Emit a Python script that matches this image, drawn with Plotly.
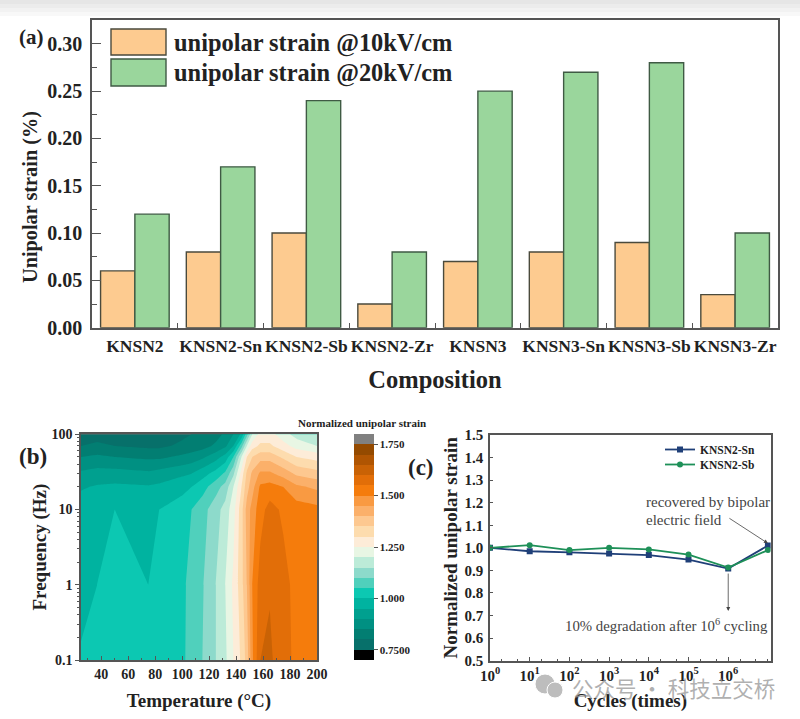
import plotly.graph_objects as go

W, H = 800, 719

# ---- panel (a)
compositions = ["KNSN2", "KNSN2-Sn", "KNSN2-Sb", "KNSN2-Zr", "KNSN3", "KNSN3-Sn", "KNSN3-Sb", "KNSN3-Zr"]
strain_10 = [0.06, 0.08, 0.10, 0.025, 0.07, 0.08, 0.09, 0.035]
strain_20 = [0.12, 0.17, 0.24, 0.08, 0.25, 0.27, 0.28, 0.10]

# ---- panel (b)
temperature = [25, 37, 50, 75, 83, 100, 107, 115, 125, 132, 138, 144, 148, 152, 158, 165, 175, 185, 200]
frequency = [0.1, 1, 10, 20, 30, 50, 70, 100]
z_f0p1 = [1.01, 1.02, 1.02, 1.02, 1.02, 1.045, 1.06, 1.10, 1.15, 1.19, 1.25, 1.31, 1.37, 1.49, 1.60, 1.61, 1.565, 1.54, 1.52]
z_f1 = [0.97, 1.00, 1.02, 1.00, 1.01, 1.04, 1.065, 1.095, 1.15, 1.20, 1.26, 1.33, 1.40, 1.50, 1.575, 1.595, 1.57, 1.53, 1.515]
z_f10 = [0.975, 0.985, 1.00, 0.975, 1.00, 1.025, 1.05, 1.08, 1.13, 1.17, 1.23, 1.33, 1.42, 1.47, 1.53, 1.57, 1.54, 1.525, 1.515]
z_f20 = [0.945, 0.955, 0.96, 0.955, 0.96, 0.985, 1.00, 1.03, 1.08, 1.12, 1.20, 1.30, 1.38, 1.43, 1.51, 1.52, 1.50, 1.46, 1.44]
z_f30 = [0.91, 0.92, 0.92, 0.91, 0.92, 0.94, 0.95, 0.98, 1.02, 1.06, 1.14, 1.27, 1.36, 1.41, 1.46, 1.46, 1.43, 1.39, 1.37]
z_f50 = [0.85, 0.86, 0.85, 0.84, 0.84, 0.86, 0.87, 0.89, 0.93, 0.97, 1.05, 1.20, 1.30, 1.35, 1.38, 1.38, 1.34, 1.30, 1.28]
z_f70 = [0.80, 0.81, 0.80, 0.79, 0.79, 0.81, 0.82, 0.83, 0.86, 0.89, 0.95, 1.08, 1.20, 1.28, 1.31, 1.31, 1.27, 1.23, 1.20]
z_f100 = [0.78, 0.78, 0.78, 0.78, 0.78, 0.79, 0.80, 0.81, 0.83, 0.86, 0.90, 0.96, 1.08, 1.20, 1.27, 1.27, 1.22, 1.18, 1.15]
band_colors = ["#000000", "#07706a", "#027e72", "#009082", "#00a08f", "#00b3a0", "#0cc8b2", "#50d0bc", "#8ddacb",
               "#bcebd8", "#e8f6e4", "#fdecd8", "#fddcae", "#fdc890", "#fbb06a", "#f99a42", "#f57c0c", "#e26e08",
               "#c96205", "#b05502", "#944a00", "#808080"]

# ---- panel (c)
cycles = [1, 10, 100, 1000, 10000, 100000, 1000000, 10000000]
sn_values = [1.0, 0.985, 0.98, 0.975, 0.968, 0.948, 0.908, 1.01]
sb_values = [1.0, 1.012, 0.99, 1.0, 0.993, 0.97, 0.913, 0.99]

SERIF = "Liberation Serif"
INK = "#222222"
FRAME = "#555555"


def xd(l, r):
    return [l / W, r / W]


def yd(t, b):
    return [1 - b / H, 1 - t / H]


def font(size, color=INK, bold=True):
    return dict(family=SERIF, size=size, color=color, weight="bold" if bold else "normal")


fig = go.Figure()

fig.add_bar(x=compositions, y=strain_10, marker=dict(color="#FDCB90", line=dict(color="#4a4a3c", width=1.4)),
            xaxis="x", yaxis="y", showlegend=False, offsetgroup="a")
fig.add_bar(x=compositions, y=strain_20, marker=dict(color="#9AD69C", line=dict(color="#3f5a44", width=1.4)),
            xaxis="x", yaxis="y", showlegend=False, offsetgroup="b")

n = len(band_colors)
stops = []
for i, c in enumerate(band_colors):
    stops.append([i / n, c])
    stops.append([(i + 1) / n, c])

fig.add_contour(
    x=temperature, y=frequency,
    z=[z_f0p1, z_f1, z_f10, z_f20, z_f30, z_f50, z_f70, z_f100],
    xaxis="x2", yaxis="y2",
    contours=dict(coloring="fill", start=0.75, end=1.75, size=0.05, showlines=False),
    line=dict(width=0, smoothing=0),
    colorscale=stops,
    zmin=0.70, zmax=1.80,
    colorbar=dict(
        thicknessmode="pixels", thickness=20, lenmode="pixels", len=226,
        x=354 / W, xanchor="left", y=1 - 434 / H, yanchor="top", xpad=0, ypad=0,
        tickvals=[0.75, 1.0, 1.25, 1.5, 1.75],
        ticktext=["0.7500", "1.000", "1.250", "1.500", "1.750"],
        ticks="outside", ticklen=4, tickcolor=FRAME, tickfont=font(11),
        outlinewidth=0,
    ),
)

fig.add_scatter(x=cycles, y=sn_values, mode="lines+markers", name="KNSN2-Sn", xaxis="x3", yaxis="y3", legend="legend",
                line=dict(color="#1F3F78", width=1.8), marker=dict(symbol="square", size=6, color="#1F3F78"))
fig.add_scatter(x=cycles, y=sb_values, mode="lines+markers", name="KNSN2-Sb", xaxis="x3", yaxis="y3", legend="legend2",
                line=dict(color="#1E9058", width=1.8), marker=dict(symbol="circle", size=6, color="#1E9058"))


def px_text(x, y, text, size, bold=True, color=INK, anchor="left", angle=0):
    return dict(x=x / W, y=1 - y / H, xref="paper", yref="paper", text=text, showarrow=False,
                font=font(size, color, bold), xanchor=anchor, yanchor="middle", align="left", textangle=angle)


frame = dict(showline=True, linecolor=FRAME, linewidth=1.6, mirror=True, showgrid=False, zeroline=False)

annotations = [
    px_text(17, 37, "(a)", 21),
    px_text(17, 456, "(b)", 23),
    px_text(406, 467, "(c)", 23),
    px_text(172, 43, "unipolar strain @10kV/cm", 24.4),
    px_text(172, 73, "unipolar strain @20kV/cm", 24.4),
    px_text(30, 197, "Unipolar strain (%)", 20.3, anchor="center", angle=-90),
    px_text(296, 423, "Normalized unipolar strain", 11),
    px_text(644, 502, "recovered by bipolar", 15, bold=False, color="#444444"),
    px_text(644, 520, "electric field", 15, bold=False, color="#444444"),
    px_text(563, 625, "10% degradation after 10<sup>6</sup> cycling", 14.8, bold=False, color="#444444"),
    dict(x=6, y=0.72, xref="x3", yref="y3", ax=0, ay=-39, axref="pixel", ayref="pixel", text="", showarrow=True,
         arrowhead=2, arrowsize=1, arrowwidth=0.8, arrowcolor="#444444"),
    dict(x=7, y=1.02, xref="x3", yref="y3", ax=-40, ay=-26, axref="pixel", ayref="pixel", text="", showarrow=True,
         arrowhead=2, arrowsize=1, arrowwidth=0.8, arrowcolor="#444444"),
    px_text(570, 687, "公众号 · 科技立交桥", 21.5, bold=False, color="rgba(150,150,150,0.75)"),
]
annotations[-1]["font"]["family"] = "Noto Sans CJK SC"


def rect(x0, y0, x1, y1, fill, line="#4a4a3c", lw=1.4):
    return dict(type="rect", xref="paper", yref="paper", x0=x0 / W, x1=x1 / W, y0=1 - y0 / H, y1=1 - y1 / H,
                fillcolor=fill, line=dict(color=line, width=lw), layer="above")


def disc(cx, cy, r, fill):
    return dict(type="circle", xref="paper", yref="paper", x0=(cx - r) / W, x1=(cx + r) / W,
                y0=1 - (cy - r) / H, y1=1 - (cy + r) / H, fillcolor=fill, line=dict(color="white", width=1),
                layer="above")


shapes = [
    rect(111, 29, 166, 55, "#FDCB90"),
    rect(111, 59, 166, 86, "#9AD69C", "#3f5a44"),
    disc(545, 684, 10, "#bdbdbd"),
    disc(555, 690, 8, "#bdbdbd"),
]
# faint grey band at the top edge of the screenshot
for y0, y1, g in [(0, 4, "#e6e6e6"), (4, 8, "#ececec"), (8, 12, "#f2f2f2"), (12, 16, "#f8f8f8")]:
    shapes.append(dict(type="rect", xref="paper", yref="paper", x0=0, x1=1, y0=1 - y0 / H, y1=1 - y1 / H,
                       fillcolor=g, line=dict(width=0), layer="below"))

log_minor = [m * 10 ** e for e in (-1, 0, 1) for m in range(2, 10)]

fig.update_layout(
    width=W, height=H, margin=dict(l=0, r=0, t=0, b=0, autoexpand=False), autosize=False,
    paper_bgcolor="white", plot_bgcolor="white",
    barmode="group", bargap=0.2, bargroupgap=0,
    font=dict(family=SERIF, color=INK),
    annotations=annotations, shapes=shapes,
    legend=dict(x=660 / W, y=1 - 435 / H, xanchor="left", yanchor="top", bgcolor="rgba(0,0,0,0)",
                font=font(11.5), itemwidth=30),
    legend2=dict(x=660 / W, y=1 - 450 / H, xanchor="left", yanchor="top", bgcolor="rgba(0,0,0,0)",
                 font=font(11.5), itemwidth=30),
    xaxis=dict(domain=xd(92, 778), anchor="y", type="category", categoryorder="array", categoryarray=compositions,
               tickson="boundaries", ticks="inside", ticklen=5, tickwidth=1.4, tickcolor=FRAME, tickangle=0,
               ticklabelstandoff=1,
               tickfont=font(17.5), title=dict(text="Composition", font=font(24.5), standoff=16), **frame),
    yaxis=dict(domain=yd(19.5, 327.7), anchor="x", range=[0, 0.3257], tickvals=[0, .05, .10, .15, .20, .25, .30],
               tickformat=".2f", ticks="inside", ticklen=9, tickwidth=1.4, tickcolor=FRAME, ticklabelstandoff=4,
               minor=dict(tickvals=[.025, .075, .125, .175, .225, .275, .325], ticks="inside", ticklen=5,
                          tickwidth=1.2, tickcolor=FRAME),
               tickfont=font(20), **frame),
    xaxis2=dict(domain=xd(81, 317), anchor="y2", range=[25, 200], tickvals=[40, 60, 80, 100, 120, 140, 160, 180, 200],
                ticks="inside", ticklen=4, tickcolor=FRAME, tickangle=0,
                minor=dict(tickvals=[30, 50, 70, 90, 110, 130, 150, 170, 190], ticks="inside", ticklen=2, tickcolor=FRAME),
                tickfont=font(14), title=dict(text="Temperature (°C)", font=font(19), standoff=13), **frame),
    yaxis2=dict(domain=yd(434.3, 660), anchor="x2", type="log", range=[-1, 2], tickvals=[0.1, 1, 10, 100],
                ticktext=["0.1", "1", "10", "100"], ticks="outside", ticklen=4, tickcolor=FRAME,
                minor=dict(tickvals=log_minor, ticks="outside", ticklen=2, tickcolor=FRAME),
                tickfont=font(14), title=dict(text="Frequency (Hz)", font=font(19), standoff=0), **frame),
    xaxis3=dict(domain=xd(490, 770.7), anchor="y3", type="log", range=[0, 7.07],
                tickvals=cycles[:7], ticktext=["10<sup>%d</sup>" % i for i in range(7)], tickangle=0,
                ticks="inside", ticklen=4, tickcolor=FRAME, minor=dict(ticks="inside", ticklen=2, tickcolor=FRAME),
                tickfont=font(15), title=dict(text="Cycles (times)", font=font(19), standoff=11), **frame),
    yaxis3=dict(domain=yd(435, 660.7), anchor="x3", range=[0.5, 1.5], dtick=0.1, tickformat=".1f",
                ticks="inside", ticklen=3, tickcolor=FRAME, ticklabelstandoff=2,
                tickfont=font(15), title=dict(text="Normalized unipolar strain", font=font(19), standoff=2), **frame),
)

fig.write_html("out.html", config={"displayModeBar": False},
               post_script="document.body.style.margin='0';document.body.style.overflow='hidden';")
